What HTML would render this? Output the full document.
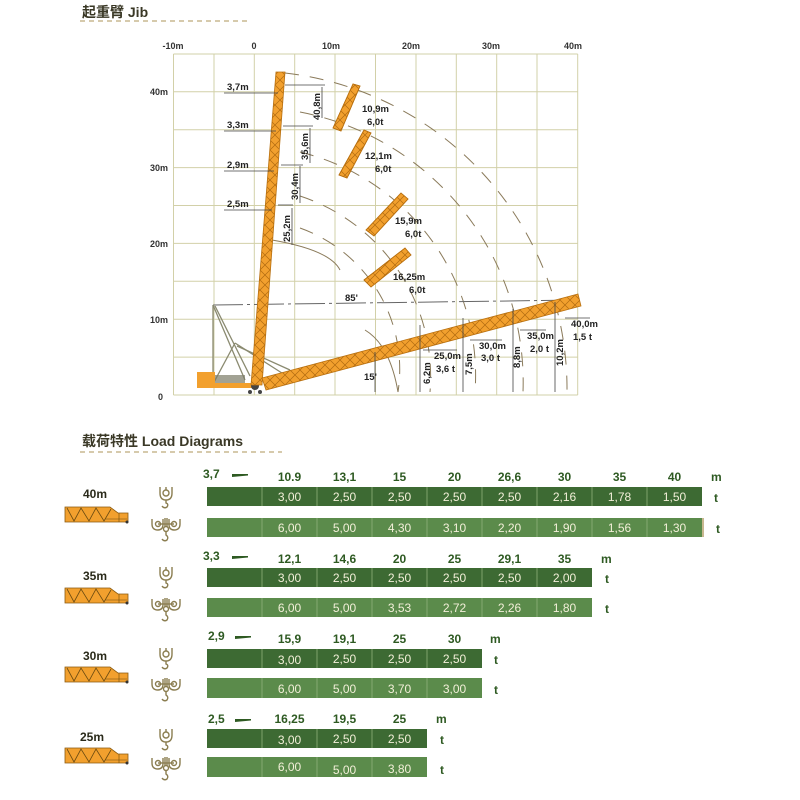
<!DOCTYPE html>
<html><head><meta charset="utf-8"><style>
html,body{margin:0;padding:0;background:#fff;}
svg{display:block;font-family:"Liberation Sans","Noto Sans CJK SC",sans-serif;}
.ax{font-size:9px;fill:#333;font-weight:bold}
.lb{font-size:9.5px;fill:#222;font-weight:bold}
.h{font-size:12px;fill:#2e5a22;font-weight:bold;text-anchor:middle}
.v{font-size:12px;fill:#f2efd8;text-anchor:middle}
.u{font-size:12px;fill:#2e5a22;font-weight:bold}
</style></head><body>
<svg width="800" height="800" viewBox="0 0 800 800">
<defs>
<g id="hook1" fill="none" stroke="#8a7d50" stroke-width="1.4">
<path d="M-6,0 V6 Q-6,13 0,13 Q6,13 6,6 V0"/><circle cx="0" cy="6" r="3"/><line x1="0" y1="0" x2="0" y2="3"/><path d="M0,13 V16 Q3,17 1,20 Q-2,22 -4,19"/>
</g>
<g id="hook2" fill="none" stroke="#8a7d50" stroke-width="1.4">
<path d="M-14,1 V6 Q-14,12 -8,12 Q-3,12 -3,6 V1"/><circle cx="-8" cy="6" r="2.5"/>
<path d="M14,1 V6 Q14,12 8,12 Q3,12 3,6 V1"/><circle cx="8" cy="6" r="2.5"/>
<line x1="-1" y1="0" x2="-1" y2="9"/><line x1="1" y1="0" x2="1" y2="9"/><line x1="-8" y1="6" x2="8" y2="6"/>
<circle cx="0" cy="11" r="2.5"/><path d="M0,13 V17 Q3,19 1,22 Q-2,24 -4,21"/>
</g>
<g id="boom">
<polygon points="0,0 45,0 53,6 63,6 63,15 0,15" fill="#f2a02e" stroke="#8a5a10" stroke-width="0.8"/>
<polyline points="2,1 9,14 16,1 24,14 31,1 39,14 46,2" fill="none" stroke="#6a4a10" stroke-width="0.8"/>
<line x1="40" y1="12" x2="62" y2="12" stroke="#6a4a10" stroke-width="0.6"/>
<line x1="54" y1="6" x2="54" y2="15" stroke="#6a4a10" stroke-width="0.6"/>
<circle cx="62" cy="15" r="1.5" fill="#333"/>
</g>
<pattern id="lat" width="10" height="10" patternUnits="userSpaceOnUse">
<path d="M0,0 L10,10 M10,0 L0,10" stroke="#b06a10" stroke-width="0.7"/>
</pattern>
</defs>

<!-- Title 1 -->
<text x="82" y="17" font-size="14" font-weight="bold" fill="#3a3826">起重臂 Jib</text>
<line x1="80" y1="21" x2="250" y2="21" stroke="#c8b890" stroke-width="1.5" stroke-dasharray="5 4"/>

<!-- Grid -->
<g stroke="#d2d0a8" stroke-width="1">
<line x1="173.5" y1="54" x2="173.5" y2="395"/><line x1="214" y1="54" x2="214" y2="395"/>
<line x1="254.3" y1="54" x2="254.3" y2="395"/><line x1="294.7" y1="54" x2="294.7" y2="395"/>
<line x1="335" y1="54" x2="335" y2="395"/><line x1="375.5" y1="54" x2="375.5" y2="395"/>
<line x1="416" y1="54" x2="416" y2="395"/><line x1="456.3" y1="54" x2="456.3" y2="395"/>
<line x1="496.7" y1="54" x2="496.7" y2="395"/><line x1="537" y1="54" x2="537" y2="395"/>
<line x1="577.7" y1="54" x2="577.7" y2="395"/>
<line x1="173.5" y1="54" x2="577.7" y2="54"/><line x1="173.5" y1="91.8" x2="577.7" y2="91.8"/>
<line x1="173.5" y1="129.7" x2="577.7" y2="129.7"/><line x1="173.5" y1="167.6" x2="577.7" y2="167.6"/>
<line x1="173.5" y1="205.5" x2="577.7" y2="205.5"/><line x1="173.5" y1="243.4" x2="577.7" y2="243.4"/>
<line x1="173.5" y1="281.3" x2="577.7" y2="281.3"/><line x1="173.5" y1="319.2" x2="577.7" y2="319.2"/>
<line x1="173.5" y1="357.1" x2="577.7" y2="357.1"/><line x1="173.5" y1="395" x2="577.7" y2="395"/>
</g>
<g class="ax">
<text x="173" y="49" text-anchor="middle">-10m</text><text x="254" y="49" text-anchor="middle">0</text>
<text x="331" y="49" text-anchor="middle">10m</text><text x="411" y="49" text-anchor="middle">20m</text>
<text x="491" y="49" text-anchor="middle">30m</text><text x="573" y="49" text-anchor="middle">40m</text>
<text x="150" y="95">40m</text><text x="150" y="171">30m</text><text x="150" y="247">20m</text>
<text x="150" y="323">10m</text><text x="158" y="400">0</text>
</g>

<!-- dashed arcs -->
<g fill="none" stroke="#8a7a5a" stroke-width="1" stroke-dasharray="14 11">
<path d="M285,73 A318,318 0 0 1 567,392"/>
<path d="M300,112 A275,275 0 0 1 523,392"/>
<path d="M300,152 A230,230 0 0 1 475,392"/>
<path d="M300,196 A190,190 0 0 1 430,392"/>
<path d="M300,228 A150,150 0 0 1 398,392"/>
</g>
<path d="M272,240 Q330,250 340,270" fill="none" stroke="#8a7a5a" stroke-width="1"/>
<path d="M365,330 Q390,345 398,392" fill="none" stroke="#8a7a5a" stroke-width="1"/>
<!-- horizontal dashed -->
<line x1="213" y1="305" x2="578" y2="300" stroke="#666" stroke-width="1" stroke-dasharray="30 4 3 4"/>

<!-- mast structure -->
<g stroke="#8a8a70" stroke-width="1.3" fill="none">
<line x1="213" y1="305" x2="213" y2="384"/><line x1="213" y1="305" x2="245" y2="380"/>
<line x1="215" y1="306" x2="250" y2="376"/><line x1="213" y1="384" x2="235" y2="343"/>
<line x1="235" y1="343" x2="285" y2="375"/><line x1="237" y1="346" x2="290" y2="370"/>
</g>
<rect x="197" y="372" width="18" height="16" fill="#f2a02e"/>
<rect x="197" y="383" width="58" height="5" fill="#f2a02e"/>
<rect x="215" y="375" width="30" height="8" fill="#7a7a66" opacity="0.7"/>
<circle cx="255" cy="386" r="4" fill="#444"/><circle cx="250" cy="392" r="2" fill="#444"/><circle cx="260" cy="392" r="2" fill="#444"/>

<!-- vertical jib -->
<polygon points="251,385 262,385 285,72 276,72" fill="#f2a02e" stroke="#b87010" stroke-width="0.8"/>
<polygon points="251,385 262,385 285,72 276,72" fill="url(#lat)"/>
<!-- low jib -->
<polygon points="262,378 578,294 581,306 266,390" fill="#f2a02e" stroke="#b87010" stroke-width="0.8"/>
<polygon points="262,378 578,294 581,306 266,390" fill="url(#lat)"/>
<!-- luffing jib pieces -->
<g stroke="#b87010" stroke-width="0.8">
<polygon points="333,128 353,84 360,86 341,131" fill="#f2a02e"/>
<polygon points="333,128 353,84 360,86 341,131" fill="url(#lat)"/>
<polygon points="339,175 364,130 371,133 347,178" fill="#f2a02e"/>
<polygon points="339,175 364,130 371,133 347,178" fill="url(#lat)"/>
<polygon points="366,230 401,193 408,199 374,236" fill="#f2a02e"/>
<polygon points="366,230 401,193 408,199 374,236" fill="url(#lat)"/>
<polygon points="364,280 405,248 411,255 371,287" fill="#f2a02e"/>
<polygon points="364,280 405,248 411,255 371,287" fill="url(#lat)"/>
</g>

<!-- dimension lines -->
<g stroke="#444" stroke-width="0.8" fill="none">
<line x1="224" y1="93" x2="278" y2="93"/><line x1="224" y1="131" x2="276" y2="131"/>
<line x1="224" y1="171" x2="274" y2="171"/><line x1="224" y1="210" x2="272" y2="210"/>
<line x1="285" y1="85" x2="325" y2="85"/><line x1="322" y1="87" x2="322" y2="118"/>
<line x1="283" y1="126" x2="313" y2="126"/><line x1="310" y1="128" x2="310" y2="163"/>
<line x1="281" y1="165" x2="303" y2="165"/><line x1="300" y1="166" x2="300" y2="203"/>
<line x1="278" y1="205" x2="293" y2="205"/><line x1="292" y1="208" x2="292" y2="245"/>
<line x1="420" y1="325" x2="420" y2="392"/><line x1="463" y1="318" x2="463" y2="392"/>
<line x1="513" y1="309" x2="513" y2="392"/><line x1="555" y1="302" x2="555" y2="392"/>
<line x1="375" y1="352" x2="375" y2="392"/>
<line x1="423" y1="350" x2="457" y2="350"/><line x1="470" y1="340" x2="502" y2="340"/>
<line x1="520" y1="330" x2="546" y2="330"/><line x1="565" y1="318" x2="590" y2="318"/>
</g>
<g class="lb">
<text x="227" y="90">3,7m</text><text x="227" y="128">3,3m</text>
<text x="227" y="168">2,9m</text><text x="227" y="207">2,5m</text>
<text x="362" y="112">10,9m</text><text x="367" y="125">6,0t</text>
<text x="365" y="159">12,1m</text><text x="375" y="172">6,0t</text>
<text x="395" y="224">15,9m</text><text x="405" y="237">6,0t</text>
<text x="393" y="280">16,25m</text><text x="409" y="293">6,0t</text>
<text x="345" y="301">85'</text><text x="364" y="380">15'</text>
<text x="434" y="359">25,0m</text><text x="436" y="372">3,6 t</text>
<text x="479" y="349">30,0m</text><text x="481" y="361">3,0 t</text>
<text x="527" y="339">35,0m</text><text x="530" y="352">2,0 t</text>
<text x="571" y="327">40,0m</text><text x="573" y="340">1,5 t</text>
<text transform="translate(320,120) rotate(-90)">40,8m</text>
<text transform="translate(308,160) rotate(-90)">35,6m</text>
<text transform="translate(298,200) rotate(-90)">30,4m</text>
<text transform="translate(290,242) rotate(-90)">25,2m</text>
<text transform="translate(430,384) rotate(-90)">6,2m</text>
<text transform="translate(472,375) rotate(-90)">7,5m</text>
<text transform="translate(520,368) rotate(-90)">8,8m</text>
<text transform="translate(563,366) rotate(-90)">10,2m</text>
</g>

<!-- Title 2 -->
<text x="82" y="446" font-size="14" font-weight="bold" fill="#3a3826">载荷特性 Load Diagrams</text>
<line x1="80" y1="452" x2="282" y2="452" stroke="#c8b890" stroke-width="1.5" stroke-dasharray="5 4"/>

<!-- Block 1 -->
<text x="95" y="498" font-size="12" font-weight="bold" fill="#2a2a1a" text-anchor="middle">40m</text>
<use href="#boom" x="65" y="507"/>
<use href="#hook1" x="166" y="487"/><use href="#hook2" x="166" y="518"/>
<text x="203" y="478" class="u">3,7</text><polygon points="232,474 248,474 248,475.5 232,477" fill="#2e5a22"/>
<g class="h"><text x="289.5" y="481">10.9</text><text x="344.5" y="481">13,1</text><text x="399.5" y="481">15</text><text x="454.5" y="481">20</text><text x="509.5" y="481">26,6</text><text x="564.5" y="481">30</text><text x="619.5" y="481">35</text><text x="674.5" y="481">40</text></g>
<text x="711" y="481" class="u">m</text><text x="714" y="502" class="u">t</text><text x="716" y="533" class="u">t</text>
<rect x="207" y="487" width="495" height="19" fill="#3d6a33"/>
<rect x="207" y="518" width="495" height="19" fill="#5b8b4b"/>
<rect x="702" y="518" width="2" height="19" fill="#c8b890"/>
<g stroke="#8fb07a" stroke-width="0.8"><line x1="262" y1="487" x2="262" y2="506"/><line x1="317" y1="487" x2="317" y2="506"/><line x1="372" y1="487" x2="372" y2="506"/><line x1="427" y1="487" x2="427" y2="506"/><line x1="482" y1="487" x2="482" y2="506"/><line x1="537" y1="487" x2="537" y2="506"/><line x1="592" y1="487" x2="592" y2="506"/><line x1="647" y1="487" x2="647" y2="506"/>
<line x1="262" y1="518" x2="262" y2="537"/><line x1="317" y1="518" x2="317" y2="537"/><line x1="372" y1="518" x2="372" y2="537"/><line x1="427" y1="518" x2="427" y2="537"/><line x1="482" y1="518" x2="482" y2="537"/><line x1="537" y1="518" x2="537" y2="537"/><line x1="592" y1="518" x2="592" y2="537"/><line x1="647" y1="518" x2="647" y2="537"/></g>
<g class="v"><text x="289.5" y="501">3,00</text><text x="344.5" y="501">2,50</text><text x="399.5" y="501">2,50</text><text x="454.5" y="501">2,50</text><text x="509.5" y="501">2,50</text><text x="564.5" y="501">2,16</text><text x="619.5" y="501">1,78</text><text x="674.5" y="501">1,50</text>
<text x="289.5" y="532">6,00</text><text x="344.5" y="532">5,00</text><text x="399.5" y="532">4,30</text><text x="454.5" y="532">3,10</text><text x="509.5" y="532">2,20</text><text x="564.5" y="532">1,90</text><text x="619.5" y="532">1,56</text><text x="674.5" y="532">1,30</text></g>

<!-- Block 2 -->
<text x="95" y="580" font-size="12" font-weight="bold" fill="#2a2a1a" text-anchor="middle">35m</text>
<use href="#boom" x="65" y="588"/>
<use href="#hook1" x="166" y="567"/><use href="#hook2" x="166" y="598"/>
<text x="203" y="560" class="u">3,3</text><polygon points="232,556 248,556 248,557.5 232,559" fill="#2e5a22"/>
<g class="h"><text x="289.5" y="563">12,1</text><text x="344.5" y="563">14,6</text><text x="399.5" y="563">20</text><text x="454.5" y="563">25</text><text x="509.5" y="563">29,1</text><text x="564.5" y="563">35</text></g>
<text x="601" y="563" class="u">m</text><text x="605" y="583" class="u">t</text><text x="605" y="613" class="u">t</text>
<rect x="207" y="568" width="385" height="19" fill="#3d6a33"/>
<rect x="207" y="598" width="385" height="19" fill="#5b8b4b"/>
<g stroke="#8fb07a" stroke-width="0.8"><line x1="262" y1="568" x2="262" y2="587"/><line x1="317" y1="568" x2="317" y2="587"/><line x1="372" y1="568" x2="372" y2="587"/><line x1="427" y1="568" x2="427" y2="587"/><line x1="482" y1="568" x2="482" y2="587"/><line x1="537" y1="568" x2="537" y2="587"/>
<line x1="262" y1="598" x2="262" y2="617"/><line x1="317" y1="598" x2="317" y2="617"/><line x1="372" y1="598" x2="372" y2="617"/><line x1="427" y1="598" x2="427" y2="617"/><line x1="482" y1="598" x2="482" y2="617"/><line x1="537" y1="598" x2="537" y2="617"/></g>
<g class="v"><text x="289.5" y="582">3,00</text><text x="344.5" y="582">2,50</text><text x="399.5" y="582">2,50</text><text x="454.5" y="582">2,50</text><text x="509.5" y="582">2,50</text><text x="564.5" y="582">2,00</text>
<text x="289.5" y="612">6,00</text><text x="344.5" y="612">5,00</text><text x="399.5" y="612">3,53</text><text x="454.5" y="612">2,72</text><text x="509.5" y="612">2,26</text><text x="564.5" y="612">1,80</text></g>

<!-- Block 3 -->
<text x="95" y="660" font-size="12" font-weight="bold" fill="#2a2a1a" text-anchor="middle">30m</text>
<use href="#boom" x="65" y="667"/>
<use href="#hook1" x="166" y="648"/><use href="#hook2" x="166" y="678"/>
<text x="208" y="640" class="u">2,9</text><polygon points="235,636 251,636 251,637.5 235,639" fill="#2e5a22"/>
<g class="h"><text x="289.5" y="643">15,9</text><text x="344.5" y="643">19,1</text><text x="399.5" y="643">25</text><text x="454.5" y="643">30</text></g>
<text x="490" y="643" class="u">m</text><text x="494" y="664" class="u">t</text><text x="494" y="694" class="u">t</text>
<rect x="207" y="649" width="275" height="19" fill="#3d6a33"/>
<rect x="207" y="678" width="275" height="20" fill="#5b8b4b"/>
<g stroke="#8fb07a" stroke-width="0.8"><line x1="262" y1="649" x2="262" y2="668"/><line x1="317" y1="649" x2="317" y2="668"/><line x1="372" y1="649" x2="372" y2="668"/><line x1="427" y1="649" x2="427" y2="668"/>
<line x1="262" y1="678" x2="262" y2="698"/><line x1="317" y1="678" x2="317" y2="698"/><line x1="372" y1="678" x2="372" y2="698"/><line x1="427" y1="678" x2="427" y2="698"/></g>
<g class="v"><text x="289.5" y="664">3,00</text><text x="344.5" y="663">2,50</text><text x="399.5" y="663">2,50</text><text x="454.5" y="663">2,50</text>
<text x="289.5" y="693">6,00</text><text x="344.5" y="693">5,00</text><text x="399.5" y="693">3,70</text><text x="454.5" y="693">3,00</text></g>

<!-- Block 4 -->
<text x="92" y="741" font-size="12" font-weight="bold" fill="#2a2a1a" text-anchor="middle">25m</text>
<use href="#boom" x="65" y="748"/>
<use href="#hook1" x="166" y="729"/><use href="#hook2" x="166" y="757"/>
<text x="208" y="723" class="u">2,5</text><polygon points="235,719 251,719 251,720.5 235,722" fill="#2e5a22"/>
<g class="h"><text x="289.5" y="723">16,25</text><text x="344.5" y="723">19,5</text><text x="399.5" y="723">25</text></g>
<text x="436" y="723" class="u">m</text><text x="440" y="744" class="u">t</text><text x="440" y="774" class="u">t</text>
<rect x="207" y="729" width="220" height="19" fill="#3d6a33"/>
<rect x="207" y="757" width="220" height="20" fill="#5b8b4b"/>
<g stroke="#8fb07a" stroke-width="0.8"><line x1="262" y1="729" x2="262" y2="748"/><line x1="317" y1="729" x2="317" y2="748"/><line x1="372" y1="729" x2="372" y2="748"/>
<line x1="262" y1="757" x2="262" y2="777"/><line x1="317" y1="757" x2="317" y2="777"/><line x1="372" y1="757" x2="372" y2="777"/></g>
<g class="v"><text x="289.5" y="744">3,00</text><text x="344.5" y="743">2,50</text><text x="399.5" y="743">2,50</text>
<text x="289.5" y="771">6,00</text><text x="344.5" y="774">5,00</text><text x="399.5" y="773">3,80</text></g>
</svg>
</body></html>
